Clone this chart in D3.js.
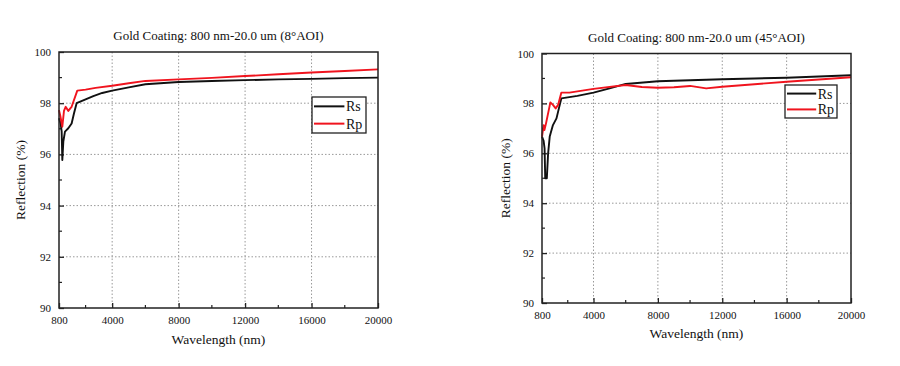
<!DOCTYPE html>
<html><head><meta charset="utf-8">
<script src="https://cdn.jsdelivr.net/npm/d3@7"></script>
<style>
body{margin:0;background:#fff;}
svg text{font-family:"Liberation Serif","Times New Roman","DejaVu Serif",serif;fill:#111;}
</style></head>
<body><svg id="c" width="900" height="366"></svg>
<script>
// ---- data ----
const titles = ["Gold Coating: 800 nm-20.0 um (8°AOI)", "Gold Coating: 800 nm-20.0 um (45°AOI)"];
const xTickValues = [800, 4000, 8000, 12000, 16000, 20000];
const xMinorTicks = [2400, 6000, 10000, 14000, 18000];
const yTickValues = [90, 92, 94, 96, 98, 100];
const yMinorTicks = [91, 93, 95, 97, 99];
const seriesNames = ["Rs", "Rp"];

const rs8W = [800, 900, 960, 1000, 1060, 1160, 1360, 1560, 1700, 1860, 2400, 2865, 3400, 4000, 5000, 6000, 8000, 10000, 12000, 14000, 16000, 18000, 20000];
const rs8V = [97.41, 97.2, 96.9, 95.78, 96.5, 96.89, 97.02, 97.21, 97.6, 98.0, 98.15, 98.28, 98.4, 98.49, 98.62, 98.74, 98.83, 98.87, 98.9, 98.93, 98.95, 98.98, 99.0];
const rp8W = [800, 880, 1000, 1100, 1200, 1360, 1480, 1560, 1900, 2400, 3000, 4000, 5000, 6000, 8000, 10000, 12000, 14000, 16000, 18000, 20000];
const rp8V = [97.73, 97.5, 97.08, 97.7, 97.86, 97.7, 97.8, 97.86, 98.49, 98.53, 98.6, 98.68, 98.78, 98.87, 98.93, 98.99, 99.06, 99.13, 99.2, 99.26, 99.32];

const rs45W = [800, 900, 960, 1000, 1100, 1180, 1280, 1480, 1700, 1850, 2000, 3000, 4000, 5000, 6000, 8000, 10000, 12000, 14000, 16000, 18000, 20000];
const rs45V = [96.67, 96.5, 96.2, 95.0, 95.0, 96.0, 96.67, 97.13, 97.4, 97.8, 98.2, 98.3, 98.43, 98.6, 98.78, 98.89, 98.93, 98.97, 99.0, 99.03, 99.08, 99.13];
const rp45W = [800, 900, 950, 1050, 1320, 1480, 1650, 1800, 2000, 2500, 4000, 6000, 7000, 8000, 9000, 10000, 11000, 12000, 14000, 16000, 18000, 20000];
const rp45V = [96.66, 97.13, 96.93, 97.2, 98.04, 97.94, 97.8, 97.94, 98.43, 98.43, 98.58, 98.74, 98.66, 98.63, 98.65, 98.7, 98.6, 98.67, 98.77, 98.87, 98.96, 99.05];

// ---- drawing ----
const svg = d3.select("#c");
const panels = [
  {title: titles[0], left: 59, right: 378, top: 52, bottom: 308, titleY: 40, xlabY: 344, ylabX: 25,
   series: [{w: rs8W, v: rs8V, color: "#111"}, {w: rp8W, v: rp8V, color: "#f0141e"}],
   legend: {x: 312, y: 97, w: 54, h: 36}},
  {title: titles[1], left: 542, right: 851, top: 53.5, bottom: 303, titleY: 42, xlabY: 338, ylabX: 510,
   series: [{w: rs45W, v: rs45V, color: "#111"}, {w: rp45W, v: rp45V, color: "#f0141e"}],
   legend: {x: 785, y: 85, w: 52, h: 33}}
];

panels.forEach(p => {
  const x = d3.scaleLinear().domain([800, 20000]).range([p.left, p.right]);
  const y = d3.scaleLinear().domain([90, 100]).range([p.bottom, p.top]);
  const g = svg.append("g");

  // grid
  g.selectAll(".vg").data(xTickValues.filter(d => d > 800 && d < 20000)).join("line")
    .attr("x1", d => x(d)).attr("x2", d => x(d)).attr("y1", p.top).attr("y2", p.bottom)
    .attr("stroke", "#999").attr("stroke-width", 1).attr("stroke-dasharray", "1.5,2");
  g.selectAll(".hg").data(yTickValues.filter(d => d > 90 && d < 100)).join("line")
    .attr("y1", d => y(d)).attr("y2", d => y(d)).attr("x1", p.left).attr("x2", p.right)
    .attr("stroke", "#999").attr("stroke-width", 1).attr("stroke-dasharray", "1.5,2");

  // axes
  const xAxis = d3.axisBottom(x).tickValues(xTickValues).tickFormat(d3.format("d")).tickSizeInner(-5).tickSizeOuter(0).tickPadding(8);
  const gx = g.append("g").attr("transform", `translate(0,${p.bottom})`).call(xAxis);
  gx.attr("font-family", null);
  gx.selectAll("text").attr("font-size", 11);
  gx.select(".domain").remove();
  gx.selectAll("line").attr("stroke", "#222").attr("stroke-width", 1.3);
  g.selectAll(".xm").data(xMinorTicks).join("line")
    .attr("x1", d => x(d)).attr("x2", d => x(d)).attr("y1", p.bottom).attr("y2", p.bottom - 3)
    .attr("stroke", "#222").attr("stroke-width", 1.2);

  const yAxis = d3.axisLeft(y).tickValues(yTickValues).tickFormat(d3.format("d")).tickSizeInner(-5).tickSizeOuter(0).tickPadding(8);
  const gy = g.append("g").attr("transform", `translate(${p.left},0)`).call(yAxis);
  gy.attr("font-family", null);
  gy.selectAll("text").attr("font-size", 11);
  gy.select(".domain").remove();
  gy.selectAll("line").attr("stroke", "#222").attr("stroke-width", 1.3);
  g.selectAll(".ym").data(yMinorTicks).join("line")
    .attr("y1", d => y(d)).attr("y2", d => y(d)).attr("x1", p.left).attr("x2", p.left + 3)
    .attr("stroke", "#222").attr("stroke-width", 1.2);

  // lines
  const line = d3.line().x(d => x(d[0])).y(d => y(d[1]));
  p.series.forEach(s => {
    g.append("path").datum(d3.zip(s.w, s.v)).attr("d", line)
      .attr("fill", "none").attr("stroke", s.color).attr("stroke-width", 1.9).attr("stroke-linejoin", "round");
  });

  // frame
  g.append("rect").attr("x", p.left).attr("y", p.top).attr("width", p.right - p.left).attr("height", p.bottom - p.top)
    .attr("fill", "none").attr("stroke", "#222").attr("stroke-width", 1.5);

  // legend
  const L = p.legend;
  const lg = g.append("g");
  lg.append("rect").attr("x", L.x).attr("y", L.y).attr("width", L.w).attr("height", L.h)
    .attr("fill", "#fff").attr("stroke", "#222").attr("stroke-width", 1.3);
  seriesNames.forEach((n, i) => {
    const ly = L.y + L.h * (0.26 + 0.48 * i);
    lg.append("line").attr("x1", L.x + 2).attr("x2", L.x + L.w * 0.6).attr("y1", ly).attr("y2", ly)
      .attr("stroke", p.series[i].color).attr("stroke-width", 2);
    lg.append("text").attr("x", L.x + L.w * 0.63).attr("y", ly + 5).attr("font-size", 14).text(n);
  });

  // titles
  g.append("text").attr("x", (p.left + p.right) / 2).attr("y", p.titleY).attr("text-anchor", "middle")
    .attr("font-size", 13).text(p.title);
  g.append("text").attr("x", (p.left + p.right) / 2).attr("y", p.xlabY).attr("text-anchor", "middle")
    .attr("font-size", 13.5).text("Wavelength (nm)");
  g.append("text").attr("transform", `translate(${p.ylabX},${(p.top + p.bottom) / 2}) rotate(-90)`)
    .attr("text-anchor", "middle").attr("font-size", 13.5).text("Reflection (%)");
});
</script></body></html>
